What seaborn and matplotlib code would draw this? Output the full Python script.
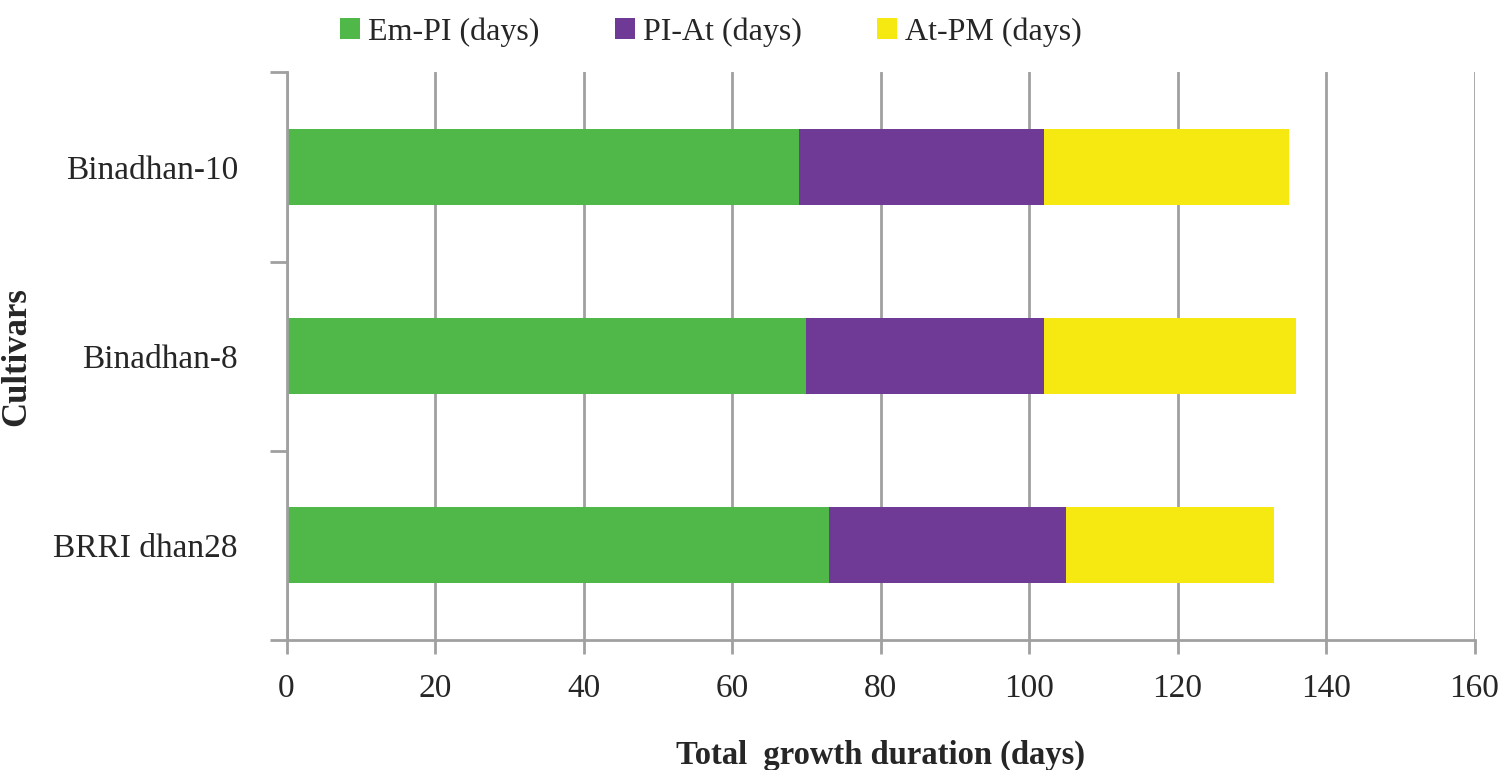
import numpy as np
import pandas as pd
import matplotlib
matplotlib.use('Agg')
import matplotlib.pyplot as plt
import seaborn as sns

# data (days)
cultivars = ['Binadhan-10', 'Binadhan-8', 'BRRI dhan28']
em_pi = [69, 70, 73]
pi_at = [33, 32, 32]
at_pm = [33, 34, 28]
stages = ['Em-PI (days)', 'PI-At (days)', 'At-PM (days)']
colors = ['#50B848', '#6F3A96', '#F5E911']

sns.set_style('white')
plt.rcParams['font.family'] = ['Liberation Serif', 'DejaVu Serif']

df = pd.DataFrame({'cultivar': cultivars, 'em_pi': em_pi, 'pi_at': pi_at, 'at_pm': at_pm})
df['c1'] = df['em_pi']
df['c2'] = df['c1'] + df['pi_at']
df['c3'] = df['c2'] + df['at_pm']

fig = plt.figure(figsize=(15, 7.7), dpi=100)
ax = fig.add_axes([0.191, 0.169, 0.792, 0.737])

# stacked bars: draw cumulative totals back to front
for col, c, lab in [('c3', colors[2], stages[2]), ('c2', colors[1], stages[1]), ('c1', colors[0], stages[0])]:
    sns.barplot(data=df, x=col, y='cultivar', color=c, width=0.4, ax=ax,
                saturation=1, label=lab, zorder=3, edgecolor='none')

ax.set_xlim(0, 160)
ax.set_ylim(2.5, -0.5)
ax.set_xticks(np.arange(0, 161, 20))
ax.grid(axis='x', color='#A0A0A0', linewidth=2, zorder=0)
ax.grid(axis='y', visible=False)
for s in ['top', 'right']:
    ax.spines[s].set_visible(False)
for s in ['left', 'bottom']:
    ax.spines[s].set_color('#A0A0A0')
    ax.spines[s].set_linewidth(2)
ax.spines['left'].set_zorder(4)

# y ticks at category boundaries
ax.set_yticks([-0.5, 0.5, 1.5, 2.5], minor=True)
ax.tick_params(axis='y', which='major', left=False, length=0, labelsize=24, pad=35)
ax.tick_params(axis='y', which='minor', left=True, length=12, width=2, color='#A0A0A0')
ax.tick_params(axis='x', bottom=True, length=10, width=2, color='#A0A0A0', labelsize=24, pad=14)

ax.set_xlabel('Total  growth duration (days)', fontsize=23.5, fontweight='bold', labelpad=26)
ax.set_ylabel('Cultivars', fontsize=25, fontweight='bold')
ax.yaxis.set_label_coords(-0.2135, 0.5)

handles, labels = ax.get_legend_handles_labels()
order = [labels.index(s) for s in stages]
ax.legend([handles[i] for i in order], [labels[i] for i in order], loc='upper center',
          bbox_to_anchor=(0.474, 1.0), bbox_transform=fig.transFigure, ncol=3, frameon=False,
          fontsize=23, handlelength=0.63, handleheight=0.63, handletextpad=0.25,
          columnspacing=2.35, borderpad=0.05)

fig.savefig('out.png', dpi=100)
